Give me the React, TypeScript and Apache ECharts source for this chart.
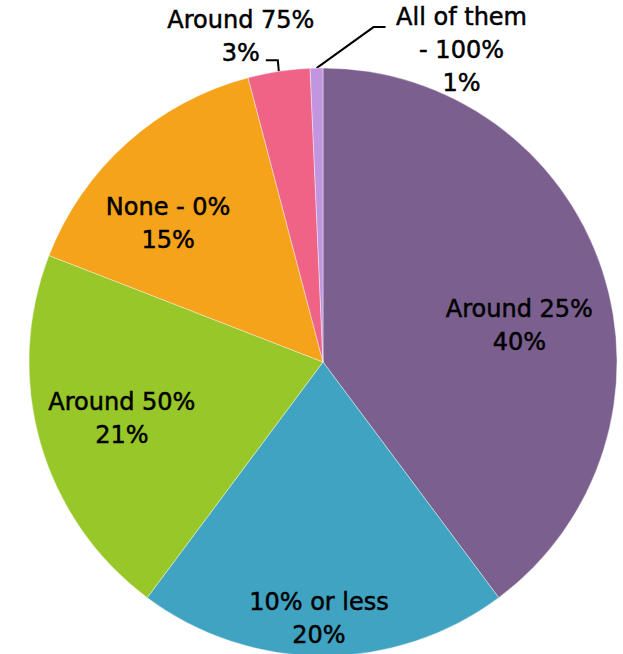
import React, { useEffect, useRef } from "react";
import * as echarts from "echarts";

const categories = ["Around 25%", "10% or less", "Around 50%", "None - 0%", "Around 75%", "All of them\n- 100%"];
const values = [39.8, 20.4, 20.7, 15.0, 3.4, 0.7];
const colors = ["#7B5F8E", "#41A3C2", "#97C728", "#F5A31A", "#EF6387", "#C195DF"];

// label offsets (style only)
const insideOffsets: [number, number][] = [
  [54, 11],
  [-4, 106],
  [-57, 15],
  [-55, -27],
];

const FONT = "DejaVu Sans";

export default function App() {
  const ref = useRef<HTMLDivElement>(null);
  useEffect(() => {
    if (!ref.current) return;
    const chart = echarts.init(ref.current, undefined, { renderer: "svg" });
    const data = categories.map((name, i) => {
      const outside = i >= 4;
      return {
        name,
        value: values[i],
        itemStyle: { color: colors[i] },
        label: outside ? { position: "outside" } : { position: "inside" },
        labelLine: outside
          ? { show: true, length: 10, length2: 12, lineStyle: { color: "#000", width: 2 } }
          : { show: false },
      };
    });
    chart.setOption({
      animation: false,
      series: [
        {
          type: "pie",
          center: [323, 362],
          radius: 294,
          startAngle: 90,
          clockwise: true,
          avoidLabelOverlap: false,
          itemStyle: { borderColor: "#fff", borderWidth: 0.4 },
          label: {
            color: "#000",
            fontFamily: FONT,
            fontSize: 24,
            fontWeight: "normal",
            lineHeight: 33,
            align: "center",
            textBorderColor: "#000",
            textBorderWidth: 0.5,
            formatter: (p: any) => `${p.name}\n${Math.round(p.percent)}%`,
          },
          labelLayout: (p: any) => {
            const i = p.dataIndex;
            if (i < 4) return { dx: insideOffsets[i][0], dy: insideOffsets[i][1] };
            const pts = p.labelLinePoints;
            if (!pts) return {};
            const e = pts[0];
            if (i === 4) {
              const p2 = [e[0] - 1, e[1] - 11];
              const p3 = [p2[0] - 12, p2[1]];
              return {
                x: p3[0] - 25,
                y: p3[1] - 24,
                align: "center",
                verticalAlign: "middle",
                labelLinePoints: [e, p2, p3],
              };
            }
            const p2 = [e[0] + 57, e[1] - 41];
            const p3 = [p2[0] + 12, p2[1]];
            return {
              x: p3[0] + 76,
              y: p3[1] + 23,
              align: "center",
              verticalAlign: "middle",
              labelLinePoints: [e, p2, p3],
            };
          },
          data,
        },
      ],
    });
    return () => chart.dispose();
  }, []);
  return (
    <div
      ref={ref}
      style={{ position: "fixed", left: 0, top: 0, width: 623, height: 654, background: "#fff" }}
    />
  );
}
